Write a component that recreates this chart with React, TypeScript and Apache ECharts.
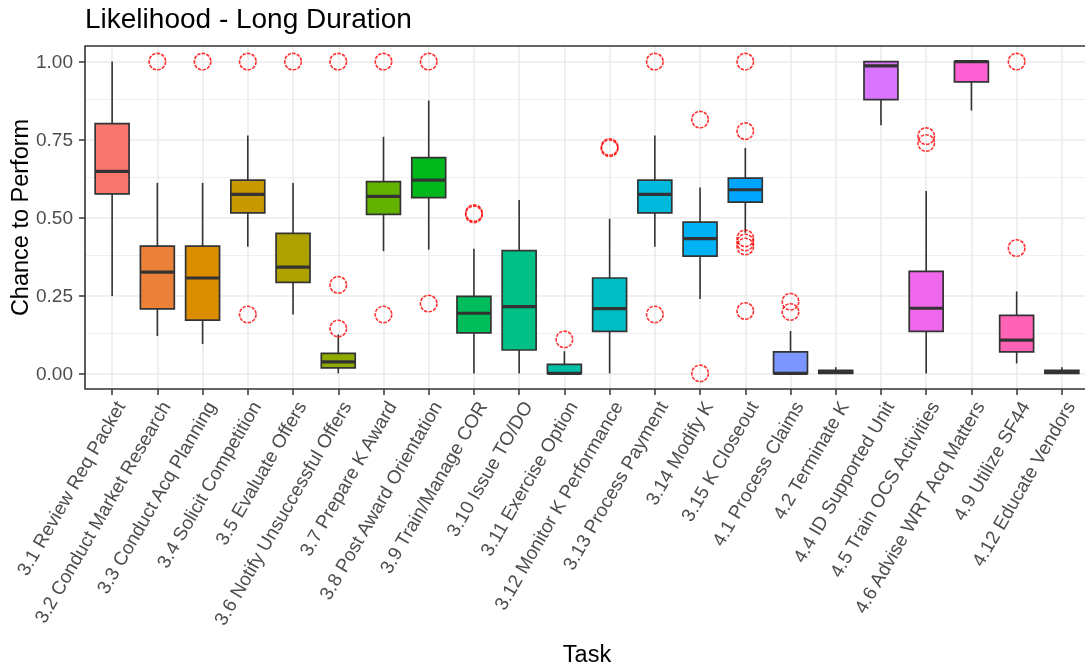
import React, { useEffect, useRef } from 'react';
import * as echarts from 'echarts';

const tasks = [
  '3.1 Review Req Packet',
  '3.2 Conduct Market Research',
  '3.3 Conduct Acq Planning',
  '3.4 Solicit Competition',
  '3.5 Evaluate Offers',
  '3.6 Notify Unsuccessful Offers',
  '3.7 Prepare K Award',
  '3.8 Post Award Orientation',
  '3.9 Train/Manage COR',
  '3.10 Issue TO/DO',
  '3.11 Exercise Option',
  '3.12 Monitor K Performance',
  '3.13 Process Payment',
  '3.14 Modify K',
  '3.15 K Closeout',
  '4.1 Process Claims',
  '4.2 Terminate K',
  '4.4 ID Supported Unit',
  '4.5 Train OCS Activities',
  '4.6 Advise WRT Acq Matters',
  '4.9 Utilize SF44',
  '4.12 Educate Vendors',
];

const whiskerLow = [0.248, 0.12, 0.094, 0.406, 0.189, 0.0, 0.392, 0.397, 0.0, 0.0, 0.0, 0.0, 0.406, 0.239, 0.451, 0.0, 0.0, 0.796, 0.0, 0.843, 0.032, 0.0];
const q1 = [0.576, 0.207, 0.171, 0.515, 0.292, 0.018, 0.51, 0.564, 0.13, 0.075, 0.0, 0.135, 0.515, 0.376, 0.549, 0.0, 0.0, 0.878, 0.135, 0.935, 0.069, 0.0];
const median = [0.648, 0.325, 0.306, 0.574, 0.341, 0.037, 0.568, 0.62, 0.193, 0.214, 0.0, 0.208, 0.574, 0.432, 0.589, 0.0, 0.005, 0.986, 0.209, 1.0, 0.107, 0.005];
const q3 = [0.801, 0.408, 0.408, 0.62, 0.449, 0.064, 0.615, 0.692, 0.247, 0.394, 0.029, 0.306, 0.62, 0.485, 0.626, 0.069, 0.01, 1.0, 0.327, 1.0, 0.186, 0.01];
const whiskerHigh = [1.0, 0.611, 0.611, 0.763, 0.611, 0.125, 0.759, 0.875, 0.4, 0.556, 0.071, 0.496, 0.763, 0.596, 0.723, 0.136, 0.02, 1.0, 0.585, 1.0, 0.263, 0.02];

const outlierTask = [1, 2, 3, 3, 4, 5, 5, 5, 6, 6, 7, 7, 8, 8, 10, 11, 11, 12, 12, 13, 13, 14, 14, 14, 14, 14, 14, 15, 15, 18, 18, 20, 20];
const outlierValue = [1.0, 1.0, 1.0, 0.189, 1.0, 1.0, 0.284, 0.144, 1.0, 0.189, 1.0, 0.224, 0.51, 0.514, 0.109, 0.722, 0.726, 1.0, 0.189, 0.814, 0.0, 1.0, 0.777, 0.433, 0.42, 0.407, 0.2, 0.23, 0.197, 0.761, 0.739, 1.0, 0.402];

const yTicks = [0, 0.25, 0.5, 0.75, 1];
const yMinorGrid = [0.125, 0.375, 0.625, 0.875];

const GL = 85;
const GT = 46;
const GW = 1004;
const GH = 343;
const FONT = 'Liberation Sans, Arial, Helvetica, sans-serif';

function hcl(h: number, c: number, l: number): string {
  const WY = 100, Wu = 0.1978398, Wv = 0.4683363;
  const hr = (h * Math.PI) / 180;
  const U = c * Math.cos(hr);
  const V = c * Math.sin(hr);
  const Y = WY * (l > 7.999592 ? Math.pow((l + 16) / 116, 3) : l / 903.3);
  const u = U / (13 * l) + Wu;
  const v = V / (13 * l) + Wv;
  const X = (9 * Y * u) / (4 * v);
  const Z = -X / 3 - 5 * Y + (3 * Y) / v;
  const g = (t: number) => {
    const s = t / WY;
    const r = s > 0.00304 ? 1.055 * Math.pow(s, 1 / 2.4) - 0.055 : 12.92 * s;
    return Math.round(Math.min(1, Math.max(0, r)) * 255);
  };
  const R = g(3.240479 * X - 1.53715 * Y - 0.498535 * Z);
  const G = g(-0.969256 * X + 1.875992 * Y + 0.041556 * Z);
  const B = g(0.055648 * X - 0.204043 * Y + 1.057311 * Z);
  const hx = (n: number) => n.toString(16).padStart(2, '0');
  return '#' + hx(R) + hx(G) + hx(B);
}

const boxColors = tasks.map((_, i) => hcl(15 + (360 / tasks.length) * i, 100, 65));

export default function App() {
  const ref = useRef<HTMLDivElement>(null);
  useEffect(() => {
    if (!ref.current) return;
    const chart = echarts.init(ref.current, null, { renderer: 'svg' });
    const boxData = tasks.map((_, i) => [i, whiskerLow[i], q1[i], median[i], q3[i], whiskerHigh[i]]);
    const outlierData = outlierTask.map((t, k) => [t, outlierValue[k]]);
    const taskIdx = tasks.map((_, i) => i);

    const renderItem = (params: any, api: any) => {
      const x = api.value(0);
      const lo = api.coord([x, api.value(1)]);
      const b1 = api.coord([x, api.value(2)]);
      const md = api.coord([x, api.value(3)]);
      const b3 = api.coord([x, api.value(4)]);
      const hi = api.coord([x, api.value(5)]);
      const bw = api.size([0.75, 0])[0];
      const cx = lo[0];
      const stroke = '#333333';
      return {
        type: 'group',
        children: [
          { type: 'line', shape: { x1: cx, y1: hi[1], x2: cx, y2: b3[1] }, style: { stroke, lineWidth: 1.6 } },
          { type: 'line', shape: { x1: cx, y1: b1[1], x2: cx, y2: lo[1] }, style: { stroke, lineWidth: 1.6 } },
          {
            type: 'rect',
            shape: { x: cx - bw / 2, y: b3[1], width: bw, height: b1[1] - b3[1] },
            style: { fill: boxColors[params.dataIndex], stroke, lineWidth: 1.7 },
          },
          { type: 'line', shape: { x1: cx - bw / 2, y1: md[1], x2: cx + bw / 2, y2: md[1] }, style: { stroke, lineWidth: 3.2 } },
        ],
      };
    };

    const gridLines = [
      ...yTicks.map((v) => ({ yAxis: v, lineStyle: { width: 1.6 } })),
      ...yMinorGrid.map((v) => ({ yAxis: v, lineStyle: { width: 0.8 } })),
      ...taskIdx.map((v) => ({ xAxis: v, lineStyle: { width: 1.6 } })),
    ];

    const option: any = {
      animation: false,
      grid: { left: GL, top: GT, width: GW, height: GH, show: false },
      xAxis: {
        type: 'value',
        min: -0.6,
        max: 21.6,
        axisLine: { show: false, onZero: false },
        axisTick: { show: true, customValues: taskIdx, length: 6, lineStyle: { color: '#333333', width: 1.5 } },
        axisLabel: {
          customValues: taskIdx,
          formatter: (v: number) => tasks[Math.round(v)] ?? '',
          rotate: 60,
          align: 'right',
          verticalAlign: 'top',
          margin: 9,
          color: '#4D4D4D',
          fontSize: 19,
          fontFamily: FONT,
        },
        splitLine: { show: false },
      },
      yAxis: {
        type: 'value',
        min: -0.05,
        max: 1.05,
        axisLine: { show: false, onZero: false },
        axisTick: { show: true, customValues: yTicks, length: 6, lineStyle: { color: '#333333', width: 1.5 } },
        axisLabel: {
          customValues: yTicks,
          formatter: (v: number) => v.toFixed(2),
          margin: 12,
          color: '#4D4D4D',
          fontSize: 19,
          fontFamily: FONT,
        },
        splitLine: { show: false },
      },
      series: [
        {
          type: 'custom',
          renderItem,
          data: boxData,
          encode: { x: 0, y: [1, 2, 3, 4, 5] },
          z: 3,
        },
        {
          type: 'scatter',
          data: outlierData,
          symbol: 'circle',
          symbolSize: 16.5,
          itemStyle: { color: 'transparent', borderColor: '#FF0000', borderWidth: 1.6, borderType: [3.5, 1.2] },
          z: 4,
          markLine: {
            silent: true,
            z: 1,
            symbol: ['none', 'none'],
            label: { show: false },
            lineStyle: { color: '#EBEBEB', type: 'solid' },
            data: gridLines,
          },
        },
      ],
      graphic: [
        {
          type: 'rect',
          z: 100,
          silent: true,
          shape: { x: GL, y: GT, width: GW, height: GH },
          style: { fill: 'none', stroke: '#333333', lineWidth: 1.6 },
        },
        {
          type: 'text',
          x: GL,
          y: 18.6,
          style: { text: 'Likelihood - Long Duration', font: `28px ${FONT}`, fill: '#000000', textAlign: 'left', textVerticalAlign: 'middle' },
        },
        {
          type: 'text',
          x: GL + GW / 2,
          y: 654,
          style: { text: 'Task', font: `23.5px ${FONT}`, fill: '#000000', textAlign: 'center', textVerticalAlign: 'middle' },
        },
        {
          type: 'text',
          x: 19.5,
          y: GT + GH / 2,
          rotation: Math.PI / 2,
          style: { text: 'Chance to Perform', font: `23.5px ${FONT}`, fill: '#000000', textAlign: 'center', textVerticalAlign: 'middle' },
        },
      ],
    };
    chart.setOption(option);
    return () => chart.dispose();
  }, []);
  return <div ref={ref} style={{ position: 'fixed', left: 0, top: 0, width: 1095, height: 667 }} />;
}
